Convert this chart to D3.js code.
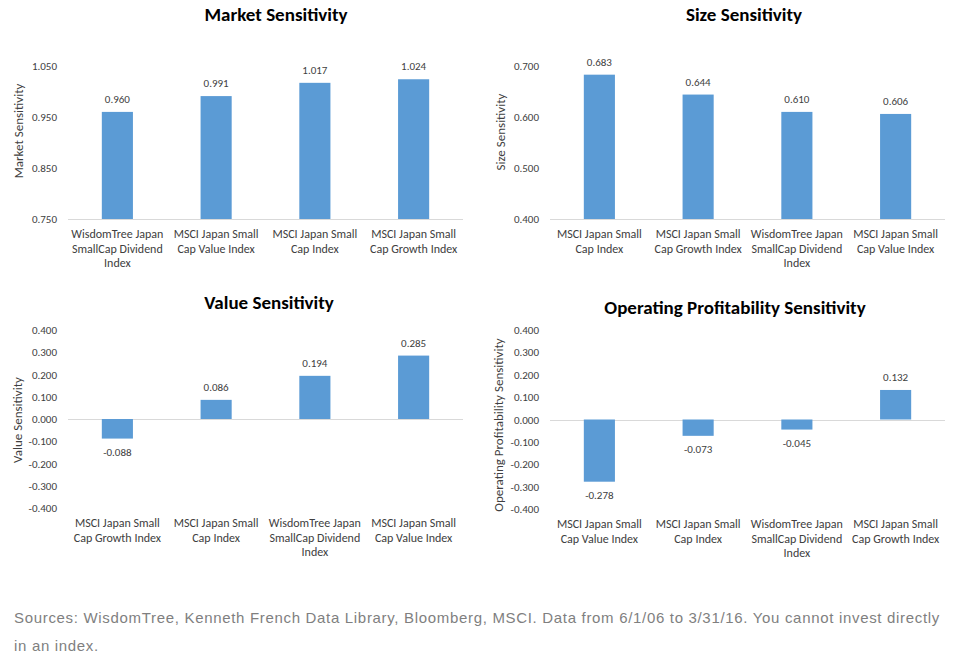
<!DOCTYPE html>
<meta charset="utf-8">
<style>
body { margin: 0; background: #fff; }
svg text { font-family: Carlito, Calibri, Lato, sans-serif; }
.title { font-size: 19px; font-weight: bold; fill: #000; }
.tick text { font-size: 11px; fill: #404040; }
.cat { font-size: 12px; fill: #404040; }
.ylab { font-size: 13px; fill: #404040; }
.val { font-size: 11px; fill: #404040; }
.baseline { stroke: #d9d9d9; stroke-width: 1; }
.bar { fill: #5b9bd5; }
.note { font-family: "Liberation Sans", Arial, sans-serif; font-size: 15px; fill: #7f7f7f; }
</style>
<svg width="954" height="669"></svg>
<script src="https://d3js.org/d3.v7.min.js"></script>
<script>
var marketCats = ["WisdomTree Japan\nSmallCap Dividend\nIndex", "MSCI Japan Small\nCap Value Index", "MSCI Japan Small\nCap Index", "MSCI Japan Small\nCap Growth Index"],
    marketVals = [0.960, 0.991, 1.017, 1.024],
    marketTicks = [0.75, 0.85, 0.95, 1.05];

var sizeCats = ["MSCI Japan Small\nCap Index", "MSCI Japan Small\nCap Growth Index", "WisdomTree Japan\nSmallCap Dividend\nIndex", "MSCI Japan Small\nCap Value Index"],
    sizeVals = [0.683, 0.644, 0.610, 0.606],
    sizeTicks = [0.4, 0.5, 0.6, 0.7];

var valueCats = ["MSCI Japan Small\nCap Growth Index", "MSCI Japan Small\nCap Index", "WisdomTree Japan\nSmallCap Dividend\nIndex", "MSCI Japan Small\nCap Value Index"],
    valueVals = [-0.088, 0.086, 0.194, 0.285];

var profitCats = ["MSCI Japan Small\nCap Value Index", "MSCI Japan Small\nCap Index", "WisdomTree Japan\nSmallCap Dividend\nIndex", "MSCI Japan Small\nCap Growth Index"],
    profitVals = [-0.278, -0.073, -0.045, 0.132];

var signedTicks = [-0.4, -0.3, -0.2, -0.1, 0, 0.1, 0.2, 0.3, 0.4];

var sourceLines = ["Sources: WisdomTree, Kenneth French Data Library, Bloomberg, MSCI. Data from 6/1/06 to 3/31/16. You cannot invest directly",
                   "in an index."];

var svg = d3.select("svg");

var fmt = d3.formatLocale({decimal: ".", thousands: ",", grouping: [3], currency: ["$", ""], minus: "-"}).format(".3f");

function panel(o) {
  var g = svg.append("g");
  var x = d3.scaleBand().domain(o.cats).range([o.left, o.right]);
  var y = d3.scaleLinear().domain([o.ticks[0], o.ticks[o.ticks.length - 1]]).range([o.bottom, o.top]);
  var bw = x.bandwidth() * 0.315;
  var base = o.ticks[0] < 0 ? 0 : o.ticks[0];

  g.append("text").attr("class", "title")
      .attr("x", o.titleX).attr("y", o.titleY)
      .attr("text-anchor", "middle")
      .text(o.title);

  var ax = g.append("g")
      .attr("transform", "translate(" + o.left + ",0)")
      .call(d3.axisLeft(y).tickValues(o.ticks).tickSize(0).tickPadding(11).tickFormat(fmt));
  ax.select(".domain").remove();
  ax.selectAll(".tick text").attr("font-family", null).attr("font-size", null);

  g.append("text").attr("class", "ylab")
      .attr("transform", "translate(" + o.labX + "," + o.labY + ") rotate(-90)")
      .attr("text-anchor", "middle")
      .attr("dy", "0.35em")
      .text(o.ylabel);

  g.append("line").attr("class", "baseline")
      .attr("x1", o.left).attr("x2", o.right)
      .attr("y1", Math.round(y(base)) + 0.5).attr("y2", Math.round(y(base)) + 0.5);

  var data = o.cats.map(function(c, i) { return {cat: c, v: o.vals[i]}; });

  g.selectAll(".bar").data(data).enter().append("rect")
      .attr("class", "bar")
      .attr("x", function(d) { return x(d.cat) + (x.bandwidth() - bw) / 2; })
      .attr("width", bw)
      .attr("y", function(d) { return y(Math.max(d.v, base)); })
      .attr("height", function(d) { return Math.abs(y(d.v) - y(base)); });

  g.selectAll(".val").data(data).enter().append("text")
      .attr("class", "val")
      .attr("text-anchor", "middle")
      .attr("x", function(d) { return x(d.cat) + x.bandwidth() / 2; })
      .attr("y", function(d) { return d.v >= base ? y(d.v) - 9 : y(d.v) + 17; })
      .text(function(d) { return fmt(d.v); });

  var cat = g.selectAll(".cat").data(data).enter().append("text")
      .attr("class", "cat")
      .attr("text-anchor", "middle")
      .attr("x", function(d) { return x(d.cat) + x.bandwidth() / 2; })
      .attr("y", o.bottom + 19);
  cat.selectAll("tspan").data(function(d) { return d.cat.split("\n"); }).enter().append("tspan")
      .attr("x", function() { return d3.select(this.parentNode).attr("x"); })
      .attr("dy", function(d, i) { return i ? 14.5 : 0; })
      .text(function(d) { return d; });
}

panel({cats: marketCats, vals: marketVals, ticks: marketTicks, title: "Market Sensitivity", ylabel: "Market Sensitivity",
       left: 68, right: 463, top: 66, bottom: 219, titleX: 276, titleY: 21, labX: 18, labY: 131});
panel({cats: sizeCats, vals: sizeVals, ticks: sizeTicks, title: "Size Sensitivity", ylabel: "Size Sensitivity",
       left: 550, right: 945, top: 66, bottom: 219, titleX: 744, titleY: 21, labX: 500, labY: 132});
panel({cats: valueCats, vals: valueVals, ticks: signedTicks, title: "Value Sensitivity", ylabel: "Value Sensitivity",
       left: 68, right: 463, top: 330, bottom: 508, titleX: 269, titleY: 309, labX: 17, labY: 420});
panel({cats: profitCats, vals: profitVals, ticks: signedTicks, title: "Operating Profitability Sensitivity", ylabel: "Operating Profitability Sensitivity",
       left: 550, right: 945, top: 330, bottom: 509, titleX: 735, titleY: 314, labX: 498, labY: 425});

var notes = svg.selectAll(".note").data(sourceLines).enter().append("text")
    .attr("class", "note")
    .attr("x", 14)
    .attr("y", function(d, i) { return 623 + i * 28; })
    .text(function(d) { return d; });

// stretch letter spacing so the first line runs to the right edge like the original
var first = notes.node();
var spacing = (926 - first.getComputedTextLength()) / sourceLines[0].length;
notes.style("letter-spacing", spacing + "px");
</script>
